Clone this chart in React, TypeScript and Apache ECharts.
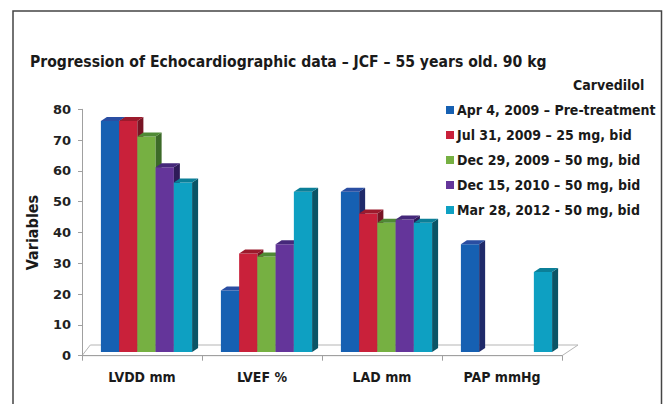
import React, { useEffect, useRef } from "react";
import * as echarts from "echarts";

const categories = ["LVDD mm", "LVEF %", "LAD mm", "PAP mmHg"];
const seriesNames = [
  "Apr 4, 2009 – Pre-treatment",
  "Jul 31, 2009 – 25 mg, bid",
  "Dec 29, 2009 – 50 mg, bid",
  "Dec 15, 2010 – 50 mg, bid",
  "Mar 28, 2012 - 50 mg, bid",
];
const apr2009 = [75, 20, 52, 35];
const jul2009 = [75, 32, 45, null];
const dec2009 = [70, 31, 42, null];
const dec2010 = [60, 35, 43, null];
const mar2012 = [55, 52, 42, 26];
const seriesValues = [apr2009, jul2009, dec2009, dec2010, mar2012];
const yTicks = { min: 0, max: 80, interval: 10 };

const frontColors = ["#1660b2", "#c9213a", "#76b042", "#64359a", "#0ea0c2"];
const topColors = ["#2a4ea2", "#9c1a2c", "#4f8a35", "#45287a", "#0b7f98"];
const sideColors = ["#1f2a6a", "#781424", "#3c6a28", "#2e1b58", "#0a5466"];

const NARROW = "'Liberation Sans Narrow', 'Arial Narrow', 'DejaVu Sans Condensed', sans-serif";

const SHIFT_X = 4.5;
const SHIFT_Y = -3.7;
const DX = 6;
const DY = -4;

function makeRender(idx: number) {
  return (params: any, api: any) => {
    const v = api.value(1);
    if (v == null || isNaN(v)) return null;
    const top = api.coord([api.value(0), v]);
    const base = api.coord([api.value(0), 0]);
    const band = api.size([1, 0])[0];
    const bw = band * 0.152;
    const x0 = top[0] + (idx - 2.5) * bw + SHIFT_X;
    const x1 = x0 + bw;
    const yT = top[1] + SHIFT_Y;
    const yB = base[1] + SHIFT_Y;
    return {
      type: "group",
      children: [
        {
          type: "rect",
          shape: { x: x0, y: yT, width: bw, height: yB - yT },
          style: { fill: frontColors[idx] },
        },
        {
          type: "polygon",
          shape: { points: [[x1, yT], [x1 + DX, yT + DY], [x1 + DX, yB + DY], [x1, yB]] },
          style: { fill: sideColors[idx] },
        },
        {
          type: "polygon",
          shape: { points: [[x0, yT], [x0 + DX, yT + DY], [x1 + DX, yT + DY], [x1, yT]] },
          style: { fill: topColors[idx] },
        },
      ],
    };
  };
}

function renderFloor(params: any) {
  const cs = params.coordSys;
  const x = cs.x, y = cs.y + cs.height, w = cs.width;
  return {
    type: "polygon",
    shape: { points: [[x, y], [x + 8.3, y - 10.7], [x + w + 16, y - 10.7], [x + w, y]] },
    style: { fill: "#ffffff", stroke: "#b5b5b5", lineWidth: 1 },
    z2: 0,
  };
}

export default function App() {
  const ref = useRef<HTMLDivElement>(null);
  useEffect(() => {
    if (!ref.current) return;
    const chart = echarts.init(ref.current, undefined, { renderer: "svg" });
    const barSeries = seriesNames.map((name, idx) => ({
      type: "custom",
      name,
      renderItem: makeRender(idx),
      itemStyle: { color: frontColors[idx] },
      encode: { x: 0, y: 1 },
      data: seriesValues[idx]
        .map((v, i) => (v == null ? null : [i, v]))
        .filter((d) => d !== null),
      z: 3,
    }));
    chart.setOption({
      animation: false,
      backgroundColor: "#ffffff",
      title: [
        {
          text: "Progression of Echocardiographic data – JCF – 55 years old. 90 kg",
          left: 30,
          top: 54,
          padding: 0,
          textStyle: { fontFamily: NARROW, fontSize: 15.6, fontWeight: "bold", color: "#1a1a1a" },
        },
        {
          text: "Carvedilol",
          left: 573,
          top: 78,
          padding: 0,
          textStyle: { fontFamily: NARROW, fontSize: 14, fontWeight: "bold", color: "#1a1a1a" },
        },
      ],
      legend: {
        data: seriesNames,
        orient: "vertical",
        left: 446,
        top: 103,
        padding: 0,
        itemWidth: 8,
        itemHeight: 8,
        itemGap: 11,
        icon: "rect",
        textStyle: { fontFamily: NARROW, fontSize: 14, fontWeight: "bold", color: "#1a1a1a", padding: [0, 0, 0, -2] },
      },
      grid: { left: 82, right: 103, top: 109.3, bottom: 48.3, containLabel: false },
      xAxis: {
        type: "category",
        data: categories,
        boundaryGap: true,
        axisLine: { show: true, lineStyle: { color: "#a0a0a0", width: 1 } },
        axisTick: { show: true, length: 5, lineStyle: { color: "#a0a0a0" } },
        axisLabel: { fontFamily: NARROW, fontSize: 14, fontWeight: "bold", color: "#1a1a1a", margin: 14 },
        splitLine: { show: false },
        z: 1,
      },
      yAxis: {
        type: "value",
        min: yTicks.min,
        max: yTicks.max,
        interval: yTicks.interval,
        name: "Variables",
        nameLocation: "middle",
        nameRotate: 90,
        nameGap: 42,
        nameTextStyle: { fontFamily: NARROW, fontSize: 16, fontWeight: "bold", color: "#1a1a1a" },
        axisLine: { show: true, lineStyle: { color: "#a0a0a0", width: 1 } },
        axisTick: { show: true, length: 4, lineStyle: { color: "#a0a0a0" } },
        axisLabel: { fontFamily: "'DejaVu Sans', sans-serif", fontSize: 13, fontWeight: "bold", color: "#222", margin: 11 },
        splitLine: { show: false },
      },
      graphic: [
        {
          type: "rect",
          shape: { x: 13, y: 11, width: 648.5, height: 420 },
          style: { fill: "none", stroke: "#444", lineWidth: 1.5 },
          silent: true,
        },
      ],
      series: [
        {
          type: "custom",
          name: "floor",
          renderItem: renderFloor,
          data: [[0, 0]],
          encode: { x: 0, y: 1 },
          z: 0,
          silent: true,
        },
        ...barSeries,
      ],
    });
    return () => chart.dispose();
  }, []);
  return (
    <div
      ref={ref}
      style={{ position: "fixed", left: 0, top: 0, width: 665, height: 404 }}
    />
  );
}
